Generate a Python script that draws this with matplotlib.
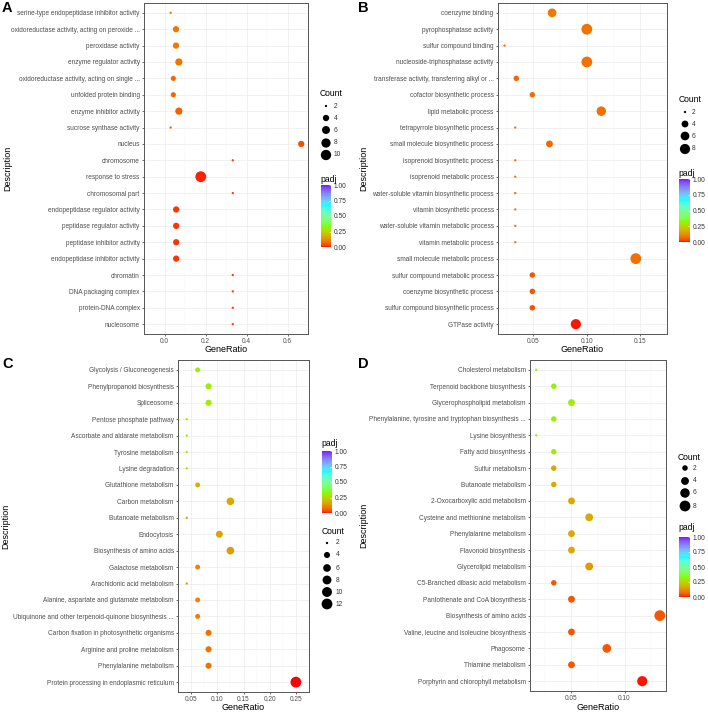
import numpy as np
import matplotlib
matplotlib.use('Agg')
import matplotlib.pyplot as plt
from matplotlib.colors import ListedColormap, to_rgb
from matplotlib.cm import ScalarMappable

plt.rcParams['font.family'] = ['Liberation Sans', 'DejaVu Sans']

# ---- panel A (GO) ----
a_terms = ["serine-type endopeptidase inhibitor activity", "oxidoreductase activity, acting on peroxide ...",
           "peroxidase activity", "enzyme regulator activity", "oxidoreductase activity, acting on single ...",
           "unfolded protein binding", "enzyme inhibitor activity", "sucrose synthase activity", "nucleus",
           "chromosome", "response to stress", "chromosomal part", "endopeptidase regulator activity",
           "peptidase regulator activity", "peptidase inhibitor activity", "endopeptidase inhibitor activity",
           "chromatin", "DNA packaging complex", "protein-DNA complex", "nucleosome"]
a_ratio = [0.030, 0.056, 0.056, 0.070, 0.043, 0.043, 0.070, 0.030, 0.667, 0.333,
           0.177, 0.333, 0.057, 0.057, 0.057, 0.057, 0.333, 0.333, 0.333, 0.333]
a_count = [2, 4, 4, 5, 3, 3, 5, 2, 4, 2, 11, 2, 4, 4, 4, 4, 2, 2, 2, 2]
a_padj = [0.09, 0.09, 0.09, 0.085, 0.07, 0.065, 0.06, 0.06, 0.04, 0.03,
          0.01, 0.03, 0.02, 0.02, 0.02, 0.02, 0.03, 0.03, 0.03, 0.03]

# ---- panel B (GO) ----
b_terms = ["coenzyme binding", "pyrophosphatase activity", "sulfur compound binding",
           "nucleoside-triphosphatase activity", "transferase activity, transferring alkyl or ...",
           "cofactor biosynthetic process", "lipid metabolic process", "tetrapyrrole biosynthetic process",
           "small molecule biosynthetic process", "isoprenoid biosynthetic process", "isoprenoid metabolic process",
           "water-soluble vitamin biosynthetic process", "vitamin biosynthetic process",
           "water-soluble vitamin metabolic process", "vitamin metabolic process", "small molecule metabolic process",
           "sulfur compound metabolic process", "coenzyme biosynthetic process",
           "sulfur compound biosynthetic process", "GTPase activity"]
b_ratio = [0.0675, 0.100, 0.023, 0.100, 0.034, 0.049, 0.1135, 0.033, 0.065, 0.033,
           0.033, 0.033, 0.033, 0.033, 0.033, 0.1458, 0.049, 0.049, 0.049, 0.0897]
b_count = [6, 9, 2, 9, 3, 3, 7, 2, 4, 2, 2, 2, 2, 2, 2, 9, 3, 3, 3, 8]
b_padj = [0.09, 0.085, 0.085, 0.085, 0.07, 0.075, 0.08, 0.08, 0.07, 0.085,
          0.085, 0.085, 0.085, 0.085, 0.085, 0.08, 0.05, 0.05, 0.045, 0.005]

# ---- panel C (KEGG) ----
c_terms = ["Glycolysis / Gluconeogenesis", "Phenylpropanoid biosynthesis", "Spliceosome",
           "Pentose phosphate pathway", "Ascorbate and aldarate metabolism", "Tyrosine metabolism",
           "Lysine degradation", "Glutathione metabolism", "Carbon metabolism", "Butanoate metabolism",
           "Endocytosis", "Biosynthesis of amino acids", "Galactose metabolism", "Arachidonic acid metabolism",
           "Alanine, aspartate and glutamate metabolism", "Ubiquinone and other terpenoid-quinone biosynthesis ...",
           "Carbon fixation in photosynthetic organisms", "Arginine and proline metabolism",
           "Phenylalanine metabolism", "Protein processing in endoplasmic reticulum"]
c_ratio = [0.0625, 0.0833, 0.0833, 0.0417, 0.0417, 0.0417, 0.0417, 0.0625, 0.125, 0.0417,
           0.104, 0.125, 0.0625, 0.0417, 0.0625, 0.0625, 0.0833, 0.0833, 0.0833, 0.25]
c_count = [3, 4, 4, 2, 2, 2, 2, 3, 6, 2, 5, 6, 3, 2, 3, 3, 4, 4, 4, 12]
c_padj = [0.3, 0.3, 0.3, 0.3, 0.29, 0.29, 0.25, 0.18, 0.17, 0.17,
          0.16, 0.15, 0.11, 0.14, 0.11, 0.1, 0.08, 0.08, 0.08, 0.002]

# ---- panel D (KEGG) ----
d_terms = ["Cholesterol metabolism", "Terpenoid backbone biosynthesis", "Glycerophospholipid metabolism",
           "Phenylalanine, tyrosine and tryptophan biosynthesis ...", "Lysine biosynthesis",
           "Fatty acid biosynthesis", "Sulfur metabolism", "Butanoate metabolism",
           "2-Oxocarboxylic acid metabolism", "Cysteine and methionine metabolism", "Phenylalanine metabolism",
           "Flavonoid biosynthesis", "Glycerolipid metabolism", "C5-Branched dibasic acid metabolism",
           "Pantothenate and CoA biosynthesis", "Biosynthesis of amino acids",
           "Valine, leucine and isoleucine biosynthesis", "Phagosome", "Thiamine metabolism",
           "Porphyrin and chlorophyll metabolism"]
d_ratio = [0.0167, 0.0333, 0.050, 0.0333, 0.0167, 0.0333, 0.0333, 0.0333, 0.050, 0.0667,
           0.050, 0.050, 0.0667, 0.0333, 0.050, 0.1333, 0.050, 0.0833, 0.050, 0.1167]
d_count = [1, 2, 3, 2, 1, 2, 2, 2, 3, 4, 3, 3, 4, 2, 3, 8, 3, 5, 3, 7]
d_padj = [0.31, 0.31, 0.3, 0.3, 0.3, 0.3, 0.17, 0.17, 0.17, 0.17,
          0.17, 0.17, 0.14, 0.05, 0.05, 0.05, 0.05, 0.05, 0.05, 0.005]


# rainbow gradient interpolated in Lab, like ggplot's gradientn
M = np.array([[0.4124, 0.3576, 0.1805], [0.2126, 0.7152, 0.0722], [0.0193, 0.1192, 0.9505]])
WHITE = np.array([0.95047, 1.0, 1.08883])


def to_lab(rgb):
    c = np.array(rgb)
    lin = np.where(c <= 0.04045, c / 12.92, ((c + 0.055) / 1.055) ** 2.4)
    xyz = M @ lin / WHITE
    f = np.where(xyz > 0.008856, np.cbrt(xyz), 7.787 * xyz + 16 / 116)
    return np.array([116 * f[1] - 16, 500 * (f[0] - f[1]), 200 * (f[1] - f[2])])


def from_lab(lab):
    fy = (lab[0] + 16) / 116
    f = np.array([fy + lab[1] / 500, fy, fy - lab[2] / 200])
    xyz = np.where(f > 0.2069, f ** 3, (f - 16 / 116) / 7.787) * WHITE
    lin = np.clip(np.linalg.inv(M) @ xyz, 0, 1)
    return np.where(lin <= 0.0031308, lin * 12.92, 1.055 * lin ** (1 / 2.4) - 0.055)


nodes = [to_lab(to_rgb(h)) for h in ['#FF0000', '#80FF00', '#00FFFF', '#8000FF']]
cols = []
for v in np.linspace(0, 1, 256):
    k = min(int(v * 3), 2)
    t = v * 3 - k
    cols.append(np.clip(from_lab(nodes[k] * (1 - t) + nodes[k + 1] * t), 0, 1))
cmap = ListedColormap(cols)

fig = plt.figure(figsize=(7.08, 7.13), dpi=100)
W, H = 708, 713
PX = 0.72  # points per pixel


def dot_size(c, cmin, cmax):
    t = (np.asarray(c, float) - cmin) / (cmax - cmin)
    d = 0.6 + 1.7 * (1 + 5 * np.sqrt(t))
    return (d * PX) ** 2


def panel(box, terms, ratio, count, padj, ticks, labels):
    x0, y0, x1, y1 = box
    ax = fig.add_axes([x0 / W, 1 - y1 / H, (x1 - x0) / W, (y1 - y0) / H])
    n = len(terms)
    y = np.arange(n)[::-1]
    cmin, cmax = min(count), max(count)
    ax.scatter(ratio, y, s=dot_size(count, cmin, cmax), c=padj, cmap=cmap, vmin=0, vmax=1,
               edgecolors='none', zorder=3)
    lo, hi = min(ratio), max(ratio)
    ax.set_xlim(lo - 0.05 * (hi - lo), hi + 0.05 * (hi - lo))
    ax.set_ylim(-0.6, n - 0.4)
    ax.set_yticks(y)
    ax.set_yticklabels(terms)
    ax.set_xticks(ticks)
    ax.set_xticklabels(labels)
    step = ticks[1] - ticks[0]
    ax.set_xticks(np.arange(ticks[0] - step / 2, ticks[-1] + step, step), minor=True)
    ax.tick_params(axis='both', which='major', labelsize=4.7, colors='#333333', labelcolor='#4D4D4D',
                   length=1.6, width=0.5, pad=1.5)
    ax.tick_params(axis='x', which='minor', length=0)
    ax.grid(True, which='major', color='#EBEBEB', lw=0.5, zorder=0)
    ax.grid(True, which='minor', axis='x', color='#F4F4F4', lw=0.3, zorder=0)
    ax.set_axisbelow(True)
    for sp in ax.spines.values():
        sp.set_color('#555555')
        sp.set_linewidth(0.7)
    return cmin, cmax


def count_legend(title_xy, dot_x, lab_x, ys, vals, cmin, cmax):
    ov.text(title_xy[0], title_xy[1], 'Count', fontsize=6.2, ha='left', va='center')
    ov.scatter([dot_x] * len(ys), ys, s=dot_size(vals, cmin, cmax), color='black', edgecolors='none')
    for yy, v in zip(ys, vals):
        ov.text(lab_x, yy, str(v), fontsize=4.8, color='#333333', ha='left', va='center')


def padj_bar(title_xy, box):
    ov.text(title_xy[0], title_xy[1], 'padj', fontsize=6.2, ha='left', va='center')
    x0, y0, x1, y1 = box
    cax = fig.add_axes([x0 / W, 1 - y1 / H, (x1 - x0) / W, (y1 - y0) / H])
    cb = fig.colorbar(ScalarMappable(cmap=cmap, norm=plt.Normalize(0, 1)), cax=cax)
    cb.set_ticks([0, 0.25, 0.5, 0.75, 1.0])
    cb.set_ticklabels(['0.00', '0.25', '0.50', '0.75', '1.00'])
    cb.outline.set_visible(False)
    cax.tick_params(labelsize=4.8, length=1.5, width=0.4, colors='white', labelcolor='#333333', pad=2,
                    direction='in')


ov = fig.add_axes([0, 0, 1, 1], zorder=5)
ov.set_xlim(0, W)
ov.set_ylim(H, 0)
ov.axis('off')

ra = panel((144, 3, 308, 334), a_terms, a_ratio, a_count, a_padj, [0.0, 0.2, 0.4, 0.6], ['0.0', '0.2', '0.4', '0.6'])
rb = panel((498, 3, 667, 334), b_terms, b_ratio, b_count, b_padj, [0.05, 0.10, 0.15], ['0.05', '0.10', '0.15'])
rc = panel((178, 360, 309, 692), c_terms, c_ratio, c_count, c_padj, [0.05, 0.10, 0.15, 0.20, 0.25],
           ['0.05', '0.10', '0.15', '0.20', '0.25'])
rd = panel((530, 360, 666, 691), d_terms, d_ratio, d_count, d_padj, [0.05, 0.10], ['0.05', '0.10'])

# axis titles and panel letters
for (x, y) in [(8, 168.5), (364, 168.5), (6, 526), (364, 525.5)]:
    ov.text(x, y, 'Description', fontsize=6.5, rotation=90, ha='center', va='center')
for (x, y) in [(226, 350), (582, 350), (243.5, 707.5), (598, 707)]:
    ov.text(x, y, 'GeneRatio', fontsize=6.5, ha='center', va='center')
for (x, y, s) in [(2, 8, 'A'), (358, 8, 'B'), (2, 364, 'C'), (358, 364, 'D')]:
    ov.text(x, y, s, fontsize=10.5, fontweight='bold', ha='left', va='center')

# legends
count_legend((320, 94), 326, 334, [106, 118, 130, 143, 155], [2, 4, 6, 8, 10], *ra)
padj_bar((320, 180), (321, 185, 331, 247))
count_legend((679, 100), 685, 692, [112, 124, 136, 149], [2, 4, 6, 8], *rb)
padj_bar((678, 174), (679, 179, 690, 242))
count_legend((322, 531), 327, 336, [543, 555, 568, 580, 592, 604], [2, 4, 6, 8, 10, 12], *rc)
padj_bar((321, 444), (322, 451, 332, 513))
count_legend((678, 457), 685, 693, [468, 481, 493, 506], [2, 4, 6, 8], *rd)
padj_bar((678, 528), (679, 537, 690, 597))

fig.savefig('out.png', dpi=100)
